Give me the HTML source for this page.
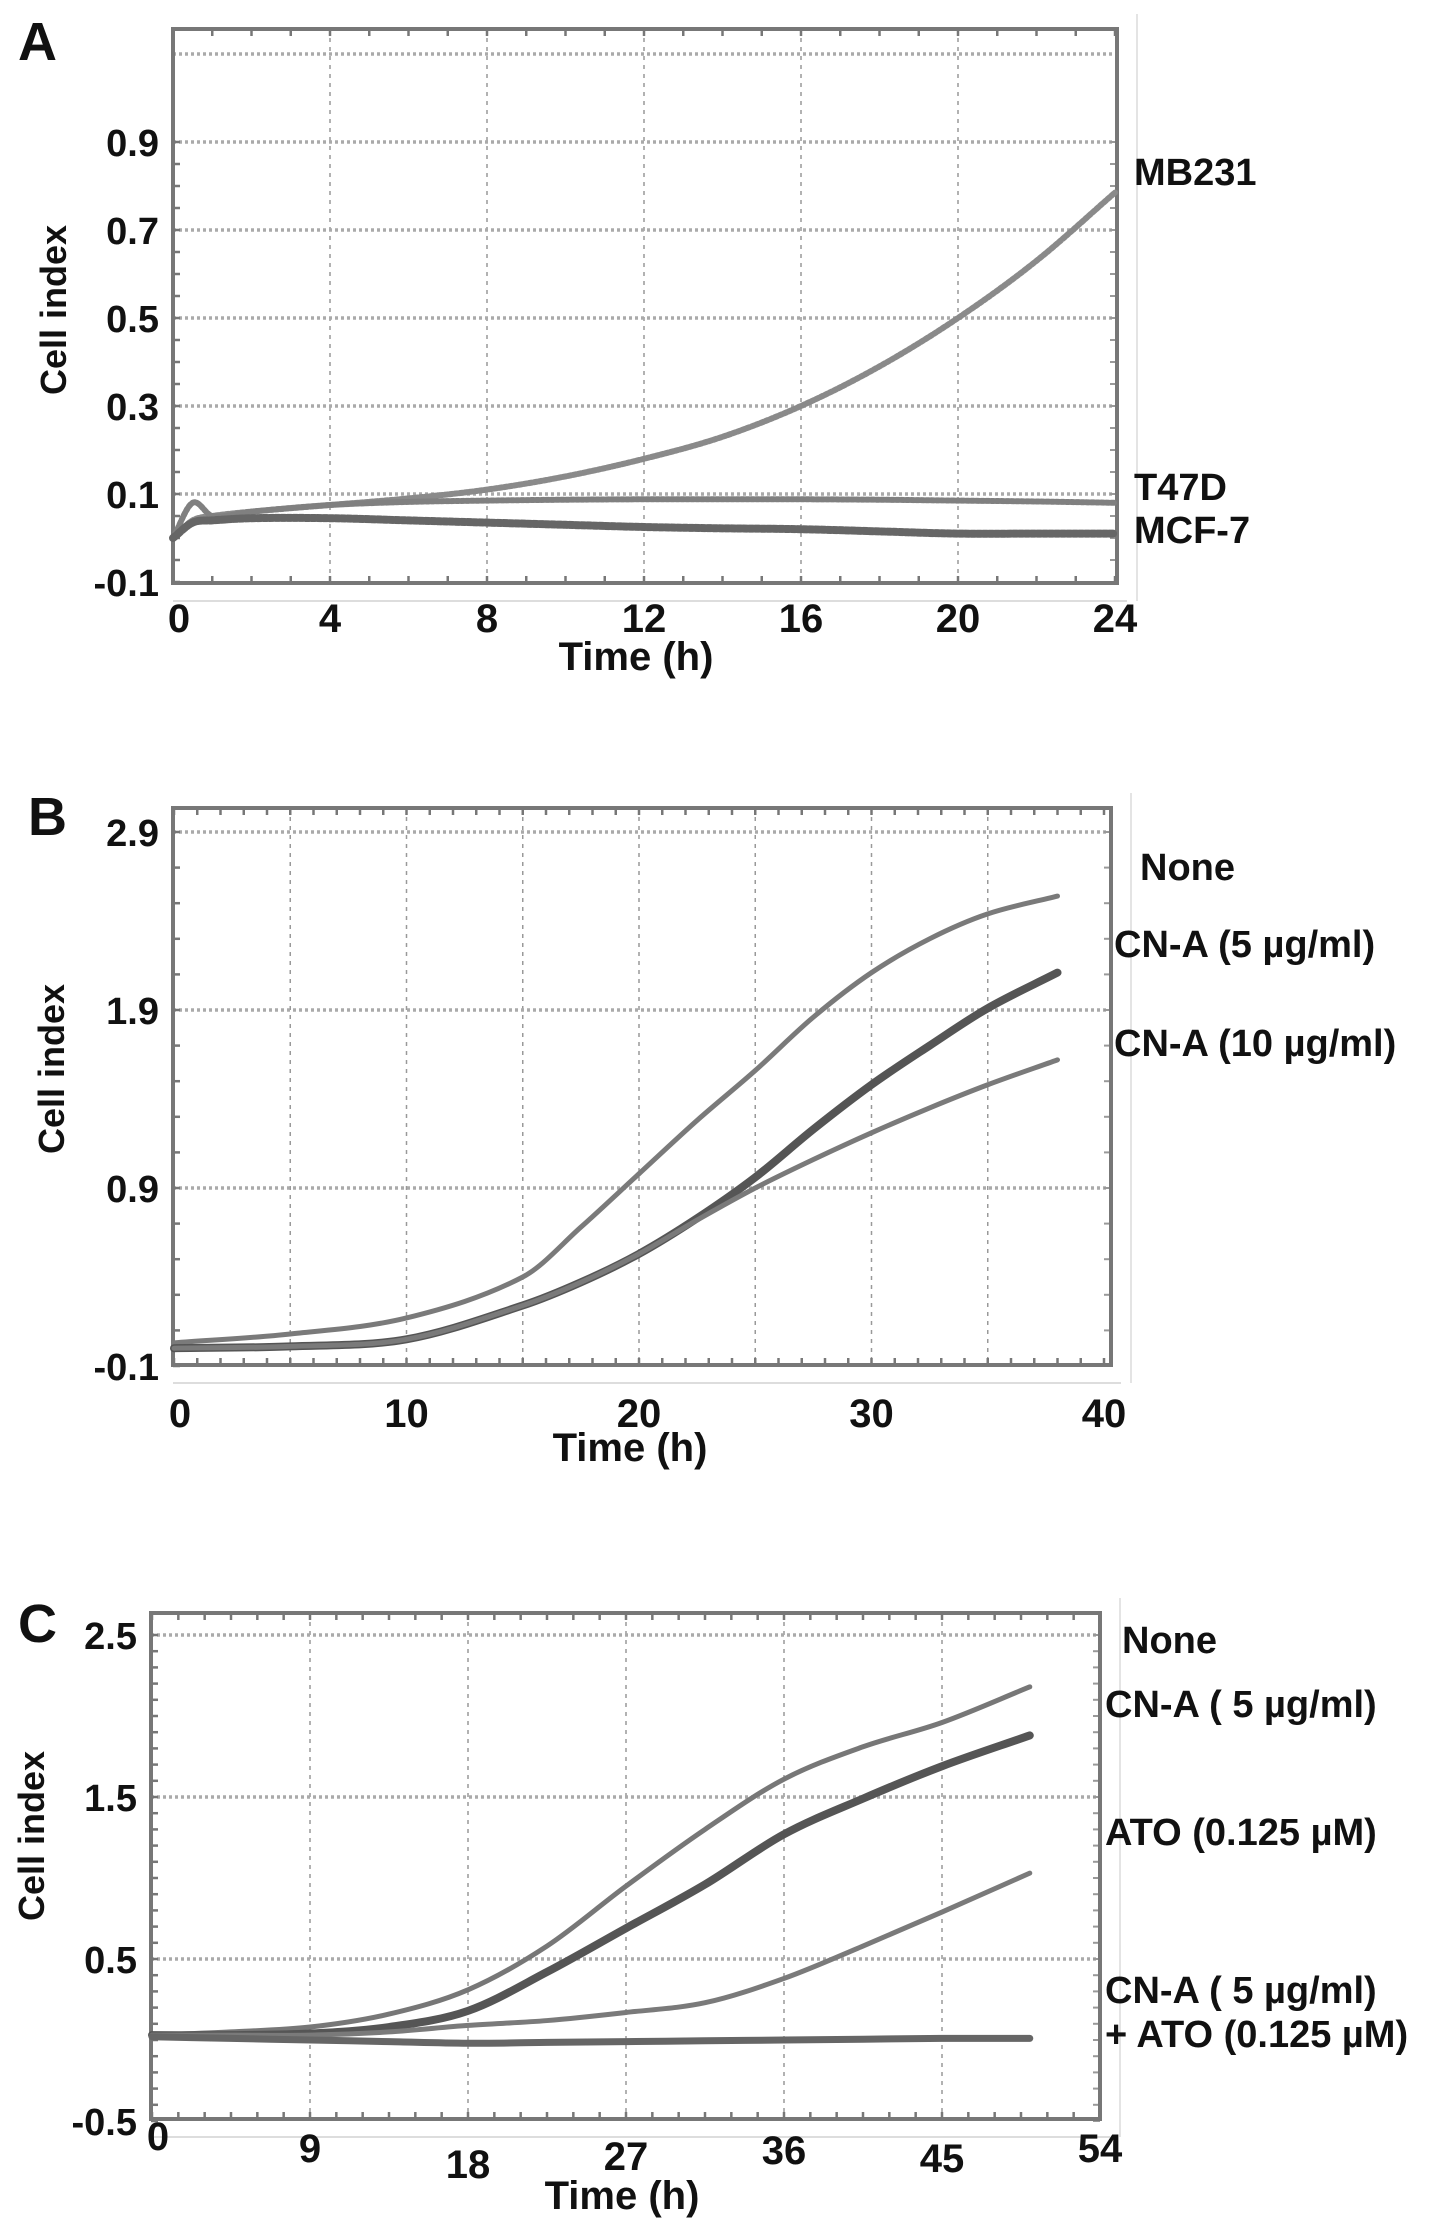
<!DOCTYPE html>
<html><head><meta charset="utf-8"><style>
html,body{margin:0;padding:0;background:#fff}
svg{display:block}
.t{font-family:"Liberation Sans Narrow","Liberation Sans",sans-serif;font-weight:bold;fill:#111}
.w{font-family:"Liberation Sans",sans-serif;font-weight:bold;fill:#111}
</style></head><body>
<svg id="fig" width="1441" height="2231" viewBox="0 0 1441 2231" xmlns="http://www.w3.org/2000/svg">
<text class="w" x="18" y="60" font-size="54">A</text>
<text class="w" x="28" y="835" font-size="54">B</text>
<text class="w" x="18" y="1642" font-size="54">C</text>
</svg>
<script>
// ---- Panel A data ----
const aTimes = [0,0.5,1,2,4,6,8,10,12,14,16,18,20,22,24];
const aMB231 = [0.0,0.04,0.05,0.06,0.075,0.09,0.11,0.14,0.18,0.23,0.30,0.39,0.50,0.63,0.785];
const aT47D  = [0.0,0.08,0.05,0.06,0.075,0.082,0.085,0.087,0.088,0.088,0.088,0.087,0.085,0.083,0.08];
const aMCF7  = [0.0,0.035,0.04,0.045,0.045,0.04,0.035,0.03,0.025,0.022,0.02,0.015,0.01,0.01,0.01];
const aYTicks = [-0.1,0.1,0.3,0.5,0.7,0.9];
const aXTicks = [0,4,8,12,16,20,24];
// ---- Panel B data ----
const bTimes = [0,5,10,15,17.5,20,22.5,25,27.5,30,32.5,35,38];
const bNone  = [0.03,0.08,0.17,0.40,0.68,0.98,1.28,1.56,1.86,2.11,2.30,2.44,2.54];
const bCN5   = [0.0,0.01,0.05,0.24,0.37,0.53,0.73,0.96,1.23,1.48,1.70,1.91,2.11];
const bCN10  = [0.0,0.01,0.05,0.24,0.37,0.53,0.72,0.90,1.06,1.21,1.35,1.48,1.62];
const bYTicks = [-0.1,0.9,1.9,2.9];
const bXTicks = [0,10,20,30,40];
// ---- Panel C data ----
const cTimes = [0,4.5,9,13.5,18,22.5,27,31.5,36,40.5,45,50];
const cNone  = [0.03,0.05,0.08,0.16,0.31,0.58,0.95,1.30,1.61,1.81,1.96,2.18];
const cCN5   = [0.03,0.03,0.04,0.08,0.18,0.42,0.69,0.96,1.27,1.49,1.69,1.88];
const cATO   = [0.03,0.03,0.03,0.05,0.09,0.12,0.17,0.23,0.38,0.58,0.79,1.03];
const cCombo = [0.02,0.01,0.0,-0.01,-0.02,-0.015,-0.01,-0.005,0.0,0.005,0.01,0.01];
const cYTicks = [-0.5,0.5,1.5,2.5];
const cXTicks = [0,9,18,27,36,45,54];

const NS="http://www.w3.org/2000/svg";
const svg=document.getElementById('fig');
function mk(tag,attrs,parent){const e=document.createElementNS(NS,tag);for(const k in attrs)e.setAttribute(k,attrs[k]);(parent||svg).appendChild(e);return e;}
function smooth(pts){
  const n=pts.length, m=[];
  for(let i=0;i<n;i++){
    const a=pts[Math.max(0,i-1)], b=pts[Math.min(n-1,i+1)];
    m.push((b[1]-a[1])/(b[0]-a[0]));
  }
  let d='M'+pts[0][0]+','+pts[0][1];
  for(let i=0;i<n-1;i++){
    const p1=pts[i],p2=pts[i+1],dx=(p2[0]-p1[0])/3;
    d+=' C'+(p1[0]+dx)+','+(p1[1]+m[i]*dx)+' '+(p2[0]-dx)+','+(p2[1]-m[i+1]*dx)+' '+p2[0]+','+p2[1];
  }
  return d;
}

function panel(p){
  const g=mk('g',{});
  
  
  const sx=v=>p.x0+(v-p.xmin)*(p.x1-p.x0)/(p.xmax-p.xmin);
  const sy=v=>p.y0+(v-p.ymin)*(p.y1-p.y0)/(p.ymax-p.ymin);
  for(let v=p.xmin+p.xgrid; v<p.xmax-1e-9; v+=p.xgrid){
    const l=mk('line',{x1:sx(v),x2:sx(v),y1:p.ft,y2:p.fb,stroke:'#999','stroke-width':1.5,'stroke-dasharray':'4 5'},g);
    
    
  }
  for(const v of p.ygrid){
    const l=mk('line',{x1:p.fl,x2:p.fr,y1:sy(v),y2:sy(v),stroke:'#aaa','stroke-width':3.5,'stroke-dasharray':'3 3'},g);
    
    
  }
  for(let v=p.xmin; v<=p.xmax+1e-9; v+=p.xminor){
    mk('line',{x1:sx(v),x2:sx(v),y1:p.fb,y2:p.fb-7,stroke:'#777','stroke-width':2.5},g);
    mk('line',{x1:sx(v),x2:sx(v),y1:p.ft,y2:p.ft+7,stroke:'#777','stroke-width':2.5},g);
  }
  for(let v=p.ymin; v<=p.ymax+1e-9; v+=p.yminor){
    mk('line',{x1:p.fl,x2:p.fl+7,y1:sy(v),y2:sy(v),stroke:'#777','stroke-width':2.5},g);
    mk('line',{x1:p.fr,x2:p.fr-7,y1:sy(v),y2:sy(v),stroke:'#999','stroke-width':2},g);
  }
  const fr=mk('rect',{x:p.fl,y:p.ft,width:p.fr-p.fl,height:p.fb-p.ft,fill:'none',stroke:'#777','stroke-width':4},g);
  
  
  mk('line',{x1:p.fl,x2:p.fr+10,y1:p.fb+18,y2:p.fb+18,stroke:'#ddd','stroke-width':2},g);
  mk('line',{x1:p.fr+20,x2:p.fr+20,y1:p.ft-15,y2:p.fb+18,stroke:'#e4e4e4','stroke-width':2},g);
  for(const v of p.yTicks){
    const t=mk('text',{class:'t',x:p.fl-14,y:sy(v)+14,'font-size':38,'text-anchor':'end'},g);
    t.textContent=p.yfmt(v);
    
    
  }
  p.xTicks.forEach((v,i)=>{
    const t=mk('text',{class:'t',x:sx(v)+(i==0?6:0),y:p.xly+(p.xoff?p.xoff[i]:0),'font-size':40,'text-anchor':'middle'},g);
    t.textContent=String(v);
    
    
  });
  const xt=mk('text',{class:'t',x:p.xtx,y:p.xty,'font-size':40,'text-anchor':'middle'},g);
  xt.textContent='Time (h)';
  
  
  const yt=mk('text',{class:'w',x:0,y:0,'font-size':36,'text-anchor':'middle',transform:'translate('+p.ytx+','+p.yty+') rotate(-90)'},g);
  yt.textContent='Cell index';
  
  
  p.series.forEach(s=>{
    const pts=p.times.map((t,i)=>[sx(t),sy(s.vals[i])]);
    const path=mk('path',{d:smooth(pts),fill:'none',stroke:s.color,'stroke-width':s.w,'stroke-linecap':'round','stroke-dasharray':s.dash||'none'},g);
    
    
  });
  p.labels.forEach(l=>{
    const t=mk('text',{class:'t',x:l[0],y:l[1],'font-size':38},g);
    t.textContent=l[2];
    
    
  });
}

panel({name:'panel-a-chart',x0:173,x1:1115,xmin:0,xmax:24,y0:582,y1:142,ymin:-0.1,ymax:0.9,
  fl:173,fr:1117,ft:29,fb:583,xgrid:4,xminor:1,ygrid:[0.1,0.3,0.5,0.7,0.9,1.1],yminor:0.05,
  yTicks:aYTicks,xTicks:aXTicks,yfmt:v=>v.toFixed(1),xly:632,xtx:636,xty:670,ytx:66,yty:310,
  times:aTimes,
  series:[{name:'mb231-line',vals:aMB231,color:'#8a8a8a',w:6,dash:'3 2'},
          {name:'t47d-line',vals:aT47D,color:'#808080',w:6,dash:'3 2'},
          {name:'mcf7-line',vals:aMCF7,color:'#666',w:8,dash:'4 2'}],
  labels:[[1134,185,'MB231'],[1134,500,'T47D'],[1134,543,'MCF-7']]});

panel({name:'panel-b-chart',x0:174,x1:1104,xmin:0,xmax:40,y0:1366,y1:832,ymin:-0.1,ymax:2.9,
  fl:173,fr:1111,ft:808,fb:1365,xgrid:5,xminor:1,ygrid:[0.9,1.9,2.9],yminor:0.2,
  yTicks:bYTicks,xTicks:bXTicks,yfmt:v=>v.toFixed(1),xly:1427,xtx:630,xty:1461,ytx:64,yty:1069,
  times:bTimes,
  series:[{name:'none-line',vals:bNone,color:'#7a7a7a',w:5},
          {name:'cna-5-line',vals:bCN5,color:'#555',w:8},
          {name:'cna-10-line',vals:bCN10,color:'#7a7a7a',w:5}],
  labels:[[1140,880,'None'],[1114,957,'CN-A (5 µg/ml)'],[1114,1056,'CN-A (10 µg/ml)']]});

panel({name:'panel-c-chart',x0:152,x1:1100,xmin:0,xmax:54,y0:2121,y1:1635,ymin:-0.5,ymax:2.5,
  fl:151,fr:1100,ft:1613,fb:2119,xgrid:9,xminor:1.5,ygrid:[0.5,1.5,2.5],yminor:0.1,
  yTicks:cYTicks,xTicks:cXTicks,yfmt:v=>v.toFixed(1),xly:2150,xoff:[0,12,28,20,14,22,12],xtx:622,xty:2209,ytx:44,yty:1836,
  times:cTimes,
  series:[{name:'none-line',vals:cNone,color:'#777',w:5},
          {name:'cna-5-line',vals:cCN5,color:'#555',w:8},
          {name:'ato-line',vals:cATO,color:'#7a7a7a',w:5},
          {name:'cna-ato-line',vals:cCombo,color:'#666',w:7}],
  labels:[[1122,1653,'None'],[1105,1717,'CN-A ( 5 µg/ml)'],[1105,1845,'ATO (0.125 µM)'],[1105,2003,'CN-A ( 5 µg/ml)'],[1105,2047,'+ ATO (0.125 µM)']]});
</script>
</body></html>
